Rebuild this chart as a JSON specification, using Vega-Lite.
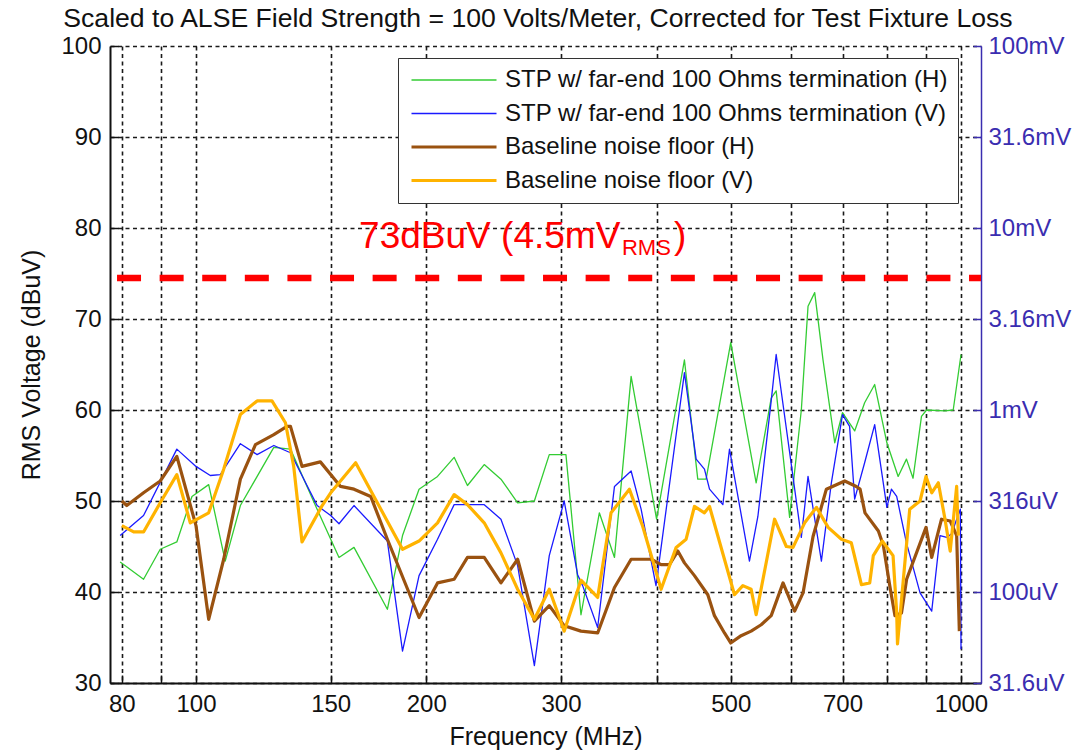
{
  "$schema": "https://vega.github.io/schema/vega-lite/v6.json",
  "width": 871,
  "height": 637,
  "autosize": "none",
  "padding": {"left": 110, "top": 46, "right": 101, "bottom": 68},
  "background": "white",
  "config": {"view": {"stroke": null}, "font": "Liberation Sans"},
  "layer": [
    {
      "layer": [
        {
          "data": {"values": [
            {"series": "STP w/ far-end 100 Ohms termination (H)", "f": 79.6, "v": 43.3},
            {"series": "STP w/ far-end 100 Ohms termination (H)", "f": 85.4, "v": 41.4},
            {"series": "STP w/ far-end 100 Ohms termination (H)", "f": 89.8, "v": 44.7},
            {"series": "STP w/ far-end 100 Ohms termination (H)", "f": 94.4, "v": 45.5},
            {"series": "STP w/ far-end 100 Ohms termination (H)", "f": 98.8, "v": 50.5},
            {"series": "STP w/ far-end 100 Ohms termination (H)", "f": 103.9, "v": 51.8},
            {"series": "STP w/ far-end 100 Ohms termination (H)", "f": 109.2, "v": 43.4},
            {"series": "STP w/ far-end 100 Ohms termination (H)", "f": 114.3, "v": 49.5},
            {"series": "STP w/ far-end 100 Ohms termination (H)", "f": 126.4, "v": 55.9},
            {"series": "STP w/ far-end 100 Ohms termination (H)", "f": 132.9, "v": 55.7},
            {"series": "STP w/ far-end 100 Ohms termination (H)", "f": 144.0, "v": 49.1},
            {"series": "STP w/ far-end 100 Ohms termination (H)", "f": 153.8, "v": 43.8},
            {"series": "STP w/ far-end 100 Ohms termination (H)", "f": 160.9, "v": 44.9},
            {"series": "STP w/ far-end 100 Ohms termination (H)", "f": 177.9, "v": 38.1},
            {"series": "STP w/ far-end 100 Ohms termination (H)", "f": 186.2, "v": 46.2},
            {"series": "STP w/ far-end 100 Ohms termination (H)", "f": 195.7, "v": 51.3},
            {"series": "STP w/ far-end 100 Ohms termination (H)", "f": 206.9, "v": 52.7},
            {"series": "STP w/ far-end 100 Ohms termination (H)", "f": 217.5, "v": 54.8},
            {"series": "STP w/ far-end 100 Ohms termination (H)", "f": 226.4, "v": 51.7},
            {"series": "STP w/ far-end 100 Ohms termination (H)", "f": 238.1, "v": 54.0},
            {"series": "STP w/ far-end 100 Ohms termination (H)", "f": 250.4, "v": 52.4},
            {"series": "STP w/ far-end 100 Ohms termination (H)", "f": 263.3, "v": 49.8},
            {"series": "STP w/ far-end 100 Ohms termination (H)", "f": 276.9, "v": 50.0},
            {"series": "STP w/ far-end 100 Ohms termination (H)", "f": 289.6, "v": 55.1},
            {"series": "STP w/ far-end 100 Ohms termination (H)", "f": 304.5, "v": 55.1},
            {"series": "STP w/ far-end 100 Ohms termination (H)", "f": 318.6, "v": 37.5},
            {"series": "STP w/ far-end 100 Ohms termination (H)", "f": 336.7, "v": 48.7},
            {"series": "STP w/ far-end 100 Ohms termination (H)", "f": 352.4, "v": 43.8},
            {"series": "STP w/ far-end 100 Ohms termination (H)", "f": 370.5, "v": 63.7},
            {"series": "STP w/ far-end 100 Ohms termination (H)", "f": 400, "v": 48.0},
            {"series": "STP w/ far-end 100 Ohms termination (H)", "f": 435, "v": 65.5},
            {"series": "STP w/ far-end 100 Ohms termination (H)", "f": 452.8, "v": 52.4},
            {"series": "STP w/ far-end 100 Ohms termination (H)", "f": 464.3, "v": 52.4},
            {"series": "STP w/ far-end 100 Ohms termination (H)", "f": 500, "v": 67.4},
            {"series": "STP w/ far-end 100 Ohms termination (H)", "f": 539.8, "v": 52.0},
            {"series": "STP w/ far-end 100 Ohms termination (H)", "f": 564.8, "v": 61.3},
            {"series": "STP w/ far-end 100 Ohms termination (H)", "f": 573.3, "v": 62.1},
            {"series": "STP w/ far-end 100 Ohms termination (H)", "f": 597, "v": 48.2},
            {"series": "STP w/ far-end 100 Ohms termination (H)", "f": 618.4, "v": 60.0},
            {"series": "STP w/ far-end 100 Ohms termination (H)", "f": 631, "v": 71.4},
            {"series": "STP w/ far-end 100 Ohms termination (H)", "f": 643.8, "v": 72.9},
            {"series": "STP w/ far-end 100 Ohms termination (H)", "f": 660.1, "v": 65.5},
            {"series": "STP w/ far-end 100 Ohms termination (H)", "f": 683.8, "v": 56.4},
            {"series": "STP w/ far-end 100 Ohms termination (H)", "f": 700, "v": 59.7},
            {"series": "STP w/ far-end 100 Ohms termination (H)", "f": 726.1, "v": 57.7},
            {"series": "STP w/ far-end 100 Ohms termination (H)", "f": 748.2, "v": 60.8},
            {"series": "STP w/ far-end 100 Ohms termination (H)", "f": 771.2, "v": 62.8},
            {"series": "STP w/ far-end 100 Ohms termination (H)", "f": 800, "v": 56.4},
            {"series": "STP w/ far-end 100 Ohms termination (H)", "f": 827.6, "v": 52.7},
            {"series": "STP w/ far-end 100 Ohms termination (H)", "f": 848.6, "v": 54.6},
            {"series": "STP w/ far-end 100 Ohms termination (H)", "f": 865.6, "v": 52.5},
            {"series": "STP w/ far-end 100 Ohms termination (H)", "f": 887.8, "v": 59.3},
            {"series": "STP w/ far-end 100 Ohms termination (H)", "f": 901.5, "v": 60.0},
            {"series": "STP w/ far-end 100 Ohms termination (H)", "f": 952.5, "v": 59.9},
            {"series": "STP w/ far-end 100 Ohms termination (H)", "f": 976.8, "v": 60.0},
            {"series": "STP w/ far-end 100 Ohms termination (H)", "f": 1000, "v": 66.1},

            {"series": "STP w/ far-end 100 Ohms termination (V)", "f": 79.6, "v": 46.2},
            {"series": "STP w/ far-end 100 Ohms termination (V)", "f": 85.4, "v": 48.4},
            {"series": "STP w/ far-end 100 Ohms termination (V)", "f": 94.4, "v": 55.7},
            {"series": "STP w/ far-end 100 Ohms termination (V)", "f": 100, "v": 53.8},
            {"series": "STP w/ far-end 100 Ohms termination (V)", "f": 104.4, "v": 52.8},
            {"series": "STP w/ far-end 100 Ohms termination (V)", "f": 107.6, "v": 52.9},
            {"series": "STP w/ far-end 100 Ohms termination (V)", "f": 114.3, "v": 56.3},
            {"series": "STP w/ far-end 100 Ohms termination (V)", "f": 120.2, "v": 55.1},
            {"series": "STP w/ far-end 100 Ohms termination (V)", "f": 126.4, "v": 56.1},
            {"series": "STP w/ far-end 100 Ohms termination (V)", "f": 132.9, "v": 55.3},
            {"series": "STP w/ far-end 100 Ohms termination (V)", "f": 144.0, "v": 49.5},
            {"series": "STP w/ far-end 100 Ohms termination (V)", "f": 150, "v": 48.4},
            {"series": "STP w/ far-end 100 Ohms termination (V)", "f": 153.8, "v": 47.5},
            {"series": "STP w/ far-end 100 Ohms termination (V)", "f": 160.9, "v": 49.5},
            {"series": "STP w/ far-end 100 Ohms termination (V)", "f": 177.9, "v": 45.6},
            {"series": "STP w/ far-end 100 Ohms termination (V)", "f": 186.2, "v": 33.5},
            {"series": "STP w/ far-end 100 Ohms termination (V)", "f": 195.7, "v": 41.8},
            {"series": "STP w/ far-end 100 Ohms termination (V)", "f": 206.9, "v": 45.8},
            {"series": "STP w/ far-end 100 Ohms termination (V)", "f": 217.5, "v": 49.6},
            {"series": "STP w/ far-end 100 Ohms termination (V)", "f": 238.1, "v": 49.6},
            {"series": "STP w/ far-end 100 Ohms termination (V)", "f": 250.4, "v": 48.0},
            {"series": "STP w/ far-end 100 Ohms termination (V)", "f": 263.3, "v": 42.9},
            {"series": "STP w/ far-end 100 Ohms termination (V)", "f": 276.9, "v": 31.9},
            {"series": "STP w/ far-end 100 Ohms termination (V)", "f": 289.6, "v": 44.0},
            {"series": "STP w/ far-end 100 Ohms termination (V)", "f": 302.9, "v": 50.0},
            {"series": "STP w/ far-end 100 Ohms termination (V)", "f": 315.4, "v": 41.9},
            {"series": "STP w/ far-end 100 Ohms termination (V)", "f": 320.2, "v": 40.7},
            {"series": "STP w/ far-end 100 Ohms termination (V)", "f": 335.0, "v": 36.1},
            {"series": "STP w/ far-end 100 Ohms termination (V)", "f": 352.4, "v": 51.6},
            {"series": "STP w/ far-end 100 Ohms termination (V)", "f": 370.5, "v": 53.3},
            {"series": "STP w/ far-end 100 Ohms termination (V)", "f": 381.8, "v": 49.1},
            {"series": "STP w/ far-end 100 Ohms termination (V)", "f": 399.3, "v": 40.7},
            {"series": "STP w/ far-end 100 Ohms termination (V)", "f": 435, "v": 64.1},
            {"series": "STP w/ far-end 100 Ohms termination (V)", "f": 450.6, "v": 54.6},
            {"series": "STP w/ far-end 100 Ohms termination (V)", "f": 462, "v": 53.5},
            {"series": "STP w/ far-end 100 Ohms termination (V)", "f": 469.1, "v": 51.3},
            {"series": "STP w/ far-end 100 Ohms termination (V)", "f": 488.3, "v": 49.6},
            {"series": "STP w/ far-end 100 Ohms termination (V)", "f": 498.2, "v": 55.7},
            {"series": "STP w/ far-end 100 Ohms termination (V)", "f": 529, "v": 43.4},
            {"series": "STP w/ far-end 100 Ohms termination (V)", "f": 542.6, "v": 48.3},
            {"series": "STP w/ far-end 100 Ohms termination (V)", "f": 564.8, "v": 61.0},
            {"series": "STP w/ far-end 100 Ohms termination (V)", "f": 573.3, "v": 66.1},
            {"series": "STP w/ far-end 100 Ohms termination (V)", "f": 618.4, "v": 46.0},
            {"series": "STP w/ far-end 100 Ohms termination (V)", "f": 631, "v": 52.7},
            {"series": "STP w/ far-end 100 Ohms termination (V)", "f": 656.9, "v": 43.4},
            {"series": "STP w/ far-end 100 Ohms termination (V)", "f": 676.9, "v": 52.0},
            {"series": "STP w/ far-end 100 Ohms termination (V)", "f": 700, "v": 59.5},
            {"series": "STP w/ far-end 100 Ohms termination (V)", "f": 715.1, "v": 58.2},
            {"series": "STP w/ far-end 100 Ohms termination (V)", "f": 726.1, "v": 50.2},
            {"series": "STP w/ far-end 100 Ohms termination (V)", "f": 748.2, "v": 54.2},
            {"series": "STP w/ far-end 100 Ohms termination (V)", "f": 771.2, "v": 58.4},
            {"series": "STP w/ far-end 100 Ohms termination (V)", "f": 800, "v": 49.3},
            {"series": "STP w/ far-end 100 Ohms termination (V)", "f": 811, "v": 51.3},
            {"series": "STP w/ far-end 100 Ohms termination (V)", "f": 824, "v": 50.5},
            {"series": "STP w/ far-end 100 Ohms termination (V)", "f": 848.6, "v": 45.4},
            {"series": "STP w/ far-end 100 Ohms termination (V)", "f": 884, "v": 39.9},
            {"series": "STP w/ far-end 100 Ohms termination (V)", "f": 915.6, "v": 37.9},
            {"series": "STP w/ far-end 100 Ohms termination (V)", "f": 938.8, "v": 46.2},
            {"series": "STP w/ far-end 100 Ohms termination (V)", "f": 958, "v": 46.0},
            {"series": "STP w/ far-end 100 Ohms termination (V)", "f": 972, "v": 46.4},
            {"series": "STP w/ far-end 100 Ohms termination (V)", "f": 987, "v": 48.0},
            {"series": "STP w/ far-end 100 Ohms termination (V)", "f": 998, "v": 49.1},
            {"series": "STP w/ far-end 100 Ohms termination (V)", "f": 1000, "v": 33.7},

            {"series": "Baseline noise floor (H)", "f": 80, "v": 50.0},
            {"series": "Baseline noise floor (H)", "f": 81.2, "v": 49.5},
            {"series": "Baseline noise floor (H)", "f": 85.4, "v": 50.9},
            {"series": "Baseline noise floor (H)", "f": 89.8, "v": 52.2},
            {"series": "Baseline noise floor (H)", "f": 94.4, "v": 54.9},
            {"series": "Baseline noise floor (H)", "f": 100, "v": 47.3},
            {"series": "Baseline noise floor (H)", "f": 103.9, "v": 37.0},
            {"series": "Baseline noise floor (H)", "f": 108.7, "v": 43.6},
            {"series": "Baseline noise floor (H)", "f": 114.3, "v": 52.4},
            {"series": "Baseline noise floor (H)", "f": 119.6, "v": 56.2},
            {"series": "Baseline noise floor (H)", "f": 126.4, "v": 57.3},
            {"series": "Baseline noise floor (H)", "f": 131.5, "v": 58.2},
            {"series": "Baseline noise floor (H)", "f": 132.9, "v": 58.2},
            {"series": "Baseline noise floor (H)", "f": 137.6, "v": 53.8},
            {"series": "Baseline noise floor (H)", "f": 145.4, "v": 54.3},
            {"series": "Baseline noise floor (H)", "f": 154.5, "v": 51.6},
            {"series": "Baseline noise floor (H)", "f": 160.9, "v": 51.3},
            {"series": "Baseline noise floor (H)", "f": 169.2, "v": 50.5},
            {"series": "Baseline noise floor (H)", "f": 177.9, "v": 45.8},
            {"series": "Baseline noise floor (H)", "f": 195.7, "v": 37.2},
            {"series": "Baseline noise floor (H)", "f": 206.9, "v": 41.0},
            {"series": "Baseline noise floor (H)", "f": 217.5, "v": 41.4},
            {"series": "Baseline noise floor (H)", "f": 226.4, "v": 43.8},
            {"series": "Baseline noise floor (H)", "f": 238.1, "v": 43.8},
            {"series": "Baseline noise floor (H)", "f": 250.4, "v": 41.0},
            {"series": "Baseline noise floor (H)", "f": 263.3, "v": 43.6},
            {"series": "Baseline noise floor (H)", "f": 276.9, "v": 36.8},
            {"series": "Baseline noise floor (H)", "f": 289.6, "v": 38.5},
            {"series": "Baseline noise floor (H)", "f": 302.9, "v": 36.3},
            {"series": "Baseline noise floor (H)", "f": 318.6, "v": 35.7},
            {"series": "Baseline noise floor (H)", "f": 335.0, "v": 35.5},
            {"series": "Baseline noise floor (H)", "f": 352.4, "v": 40.5},
            {"series": "Baseline noise floor (H)", "f": 370.5, "v": 43.6},
            {"series": "Baseline noise floor (H)", "f": 393.5, "v": 43.6},
            {"series": "Baseline noise floor (H)", "f": 405.5, "v": 43.0},
            {"series": "Baseline noise floor (H)", "f": 415.8, "v": 43.0},
            {"series": "Baseline noise floor (H)", "f": 426.4, "v": 44.5},
            {"series": "Baseline noise floor (H)", "f": 435, "v": 43.2},
            {"series": "Baseline noise floor (H)", "f": 448.3, "v": 41.8},
            {"series": "Baseline noise floor (H)", "f": 466.7, "v": 39.7},
            {"series": "Baseline noise floor (H)", "f": 476.1, "v": 37.4},
            {"series": "Baseline noise floor (H)", "f": 490.7, "v": 35.5},
            {"series": "Baseline noise floor (H)", "f": 500, "v": 34.4},
            {"series": "Baseline noise floor (H)", "f": 515.9, "v": 35.2},
            {"series": "Baseline noise floor (H)", "f": 531.7, "v": 35.7},
            {"series": "Baseline noise floor (H)", "f": 548, "v": 36.4},
            {"series": "Baseline noise floor (H)", "f": 564.8, "v": 37.4},
            {"series": "Baseline noise floor (H)", "f": 585.3, "v": 41.0},
            {"series": "Baseline noise floor (H)", "f": 606.1, "v": 37.9},
            {"series": "Baseline noise floor (H)", "f": 621.6, "v": 39.9},
            {"series": "Baseline noise floor (H)", "f": 640.6, "v": 46.1},
            {"series": "Baseline noise floor (H)", "f": 666.8, "v": 51.3},
            {"series": "Baseline noise floor (H)", "f": 704.7, "v": 52.2},
            {"series": "Baseline noise floor (H)", "f": 729.6, "v": 51.6},
            {"series": "Baseline noise floor (H)", "f": 738, "v": 51.3},
            {"series": "Baseline noise floor (H)", "f": 749, "v": 48.7},
            {"series": "Baseline noise floor (H)", "f": 779.8, "v": 46.7},
            {"series": "Baseline noise floor (H)", "f": 791.6, "v": 45.1},
            {"series": "Baseline noise floor (H)", "f": 807, "v": 40.7},
            {"series": "Baseline noise floor (H)", "f": 819.7, "v": 37.4},
            {"series": "Baseline noise floor (H)", "f": 836, "v": 37.7},
            {"series": "Baseline noise floor (H)", "f": 849, "v": 41.4},
            {"series": "Baseline noise floor (H)", "f": 900, "v": 47.1},
            {"series": "Baseline noise floor (H)", "f": 915.6, "v": 43.8},
            {"series": "Baseline noise floor (H)", "f": 943, "v": 48.0},
            {"series": "Baseline noise floor (H)", "f": 968, "v": 47.8},
            {"series": "Baseline noise floor (H)", "f": 987, "v": 46.2},
            {"series": "Baseline noise floor (H)", "f": 995, "v": 35.7},

            {"series": "Baseline noise floor (V)", "f": 80, "v": 47.3},
            {"series": "Baseline noise floor (V)", "f": 82.9, "v": 46.6},
            {"series": "Baseline noise floor (V)", "f": 85.4, "v": 46.6},
            {"series": "Baseline noise floor (V)", "f": 89.8, "v": 49.8},
            {"series": "Baseline noise floor (V)", "f": 94.4, "v": 52.9},
            {"series": "Baseline noise floor (V)", "f": 98.3, "v": 47.6},
            {"series": "Baseline noise floor (V)", "f": 103.9, "v": 48.7},
            {"series": "Baseline noise floor (V)", "f": 108.7, "v": 53.5},
            {"series": "Baseline noise floor (V)", "f": 114.3, "v": 59.5},
            {"series": "Baseline noise floor (V)", "f": 120.2, "v": 61.0},
            {"series": "Baseline noise floor (V)", "f": 125.7, "v": 61.0},
            {"series": "Baseline noise floor (V)", "f": 130.9, "v": 58.6},
            {"series": "Baseline noise floor (V)", "f": 134.2, "v": 53.8},
            {"series": "Baseline noise floor (V)", "f": 137.6, "v": 45.5},
            {"series": "Baseline noise floor (V)", "f": 146.2, "v": 49.5},
            {"series": "Baseline noise floor (V)", "f": 150, "v": 50.9},
            {"series": "Baseline noise floor (V)", "f": 161.7, "v": 54.2},
            {"series": "Baseline noise floor (V)", "f": 186.2, "v": 44.7},
            {"series": "Baseline noise floor (V)", "f": 195.7, "v": 45.6},
            {"series": "Baseline noise floor (V)", "f": 206.9, "v": 47.6},
            {"series": "Baseline noise floor (V)", "f": 217.5, "v": 50.7},
            {"series": "Baseline noise floor (V)", "f": 226.4, "v": 49.6},
            {"series": "Baseline noise floor (V)", "f": 238.1, "v": 47.6},
            {"series": "Baseline noise floor (V)", "f": 250.4, "v": 44.3},
            {"series": "Baseline noise floor (V)", "f": 263.3, "v": 40.3},
            {"series": "Baseline noise floor (V)", "f": 276.9, "v": 37.0},
            {"series": "Baseline noise floor (V)", "f": 289.6, "v": 40.3},
            {"series": "Baseline noise floor (V)", "f": 302.9, "v": 35.7},
            {"series": "Baseline noise floor (V)", "f": 318.6, "v": 41.3},
            {"series": "Baseline noise floor (V)", "f": 335.0, "v": 39.4},
            {"series": "Baseline noise floor (V)", "f": 348.8, "v": 48.7},
            {"series": "Baseline noise floor (V)", "f": 368.6, "v": 51.3},
            {"series": "Baseline noise floor (V)", "f": 383.7, "v": 47.2},
            {"series": "Baseline noise floor (V)", "f": 405.5, "v": 40.3},
            {"series": "Baseline noise floor (V)", "f": 424.3, "v": 44.9},
            {"series": "Baseline noise floor (V)", "f": 437.2, "v": 45.8},
            {"series": "Baseline noise floor (V)", "f": 448.3, "v": 49.4},
            {"series": "Baseline noise floor (V)", "f": 462, "v": 48.7},
            {"series": "Baseline noise floor (V)", "f": 469.1, "v": 49.4},
            {"series": "Baseline noise floor (V)", "f": 505.7, "v": 39.7},
            {"series": "Baseline noise floor (V)", "f": 518.6, "v": 40.7},
            {"series": "Baseline noise floor (V)", "f": 531.7, "v": 40.3},
            {"series": "Baseline noise floor (V)", "f": 539.8, "v": 37.5},
            {"series": "Baseline noise floor (V)", "f": 570.5, "v": 48.0},
            {"series": "Baseline noise floor (V)", "f": 591.1, "v": 45.0},
            {"series": "Baseline noise floor (V)", "f": 603.1, "v": 44.9},
            {"series": "Baseline noise floor (V)", "f": 624.6, "v": 47.6},
            {"series": "Baseline noise floor (V)", "f": 647.2, "v": 49.3},
            {"series": "Baseline noise floor (V)", "f": 670.4, "v": 47.1},
            {"series": "Baseline noise floor (V)", "f": 697.7, "v": 45.8},
            {"series": "Baseline noise floor (V)", "f": 718.8, "v": 45.4},
            {"series": "Baseline noise floor (V)", "f": 741, "v": 40.8},
            {"series": "Baseline noise floor (V)", "f": 759.8, "v": 41.0},
            {"series": "Baseline noise floor (V)", "f": 768, "v": 44.0},
            {"series": "Baseline noise floor (V)", "f": 789, "v": 45.6},
            {"series": "Baseline noise floor (V)", "f": 815, "v": 44.0},
            {"series": "Baseline noise floor (V)", "f": 824, "v": 37.7},
            {"series": "Baseline noise floor (V)", "f": 826, "v": 34.3},
            {"series": "Baseline noise floor (V)", "f": 857, "v": 49.1},
            {"series": "Baseline noise floor (V)", "f": 884, "v": 50.0},
            {"series": "Baseline noise floor (V)", "f": 900, "v": 52.7},
            {"series": "Baseline noise floor (V)", "f": 915.6, "v": 50.9},
            {"series": "Baseline noise floor (V)", "f": 934, "v": 52.0},
            {"series": "Baseline noise floor (V)", "f": 953, "v": 48.0},
            {"series": "Baseline noise floor (V)", "f": 968, "v": 44.5},
            {"series": "Baseline noise floor (V)", "f": 987, "v": 51.6},
            {"series": "Baseline noise floor (V)", "f": 992, "v": 46.2}
          ]},
          "mark": {"type": "line", "strokeJoin": "round"},
          "encoding": {
            "x": {"field": "f", "type": "quantitative",
              "scale": {"type": "log", "domain": [77.2, 1062], "nice": false},
              "axis": {"title": "Frequency (MHz)", "values": [80, 90, 100, 150, 200, 300, 400, 500, 600, 700, 800, 900, 1000],
                "labelExpr": "indexof([80, 100, 150, 200, 300, 500, 700, 1000], datum.value) >= 0 ? datum.value + '' : ''",
                "grid": true, "gridColor": "#1a1a1a", "gridDash": [4, 3.5], "gridWidth": 1.6, "gridOpacity": 1,
                "domainColor": "#111111", "domainWidth": 2, "tickColor": "#111111", "tickSize": -8, "tickWidth": 1.5,
                "labelFont": "Liberation Sans", "labelFontSize": 24, "labelColor": "#111111", "labelPadding": 17,
                "labelFlush": false, "labelOverlap": false,
                "titleFont": "Liberation Sans", "titleFontSize": 25, "titleFontWeight": "normal", "titleColor": "#111111", "titlePadding": 8}},
            "y": {"field": "v", "type": "quantitative",
              "scale": {"domain": [30, 100], "nice": false, "zero": false},
              "axis": {"title": "RMS Voltage (dBuV)", "values": [30, 40, 50, 60, 70, 80, 90, 100],
                "grid": true, "gridColor": "#1a1a1a", "gridDash": [4, 3.5], "gridWidth": 1.6, "gridOpacity": 1,
                "domainColor": "#111111", "domainWidth": 2, "tickColor": "#111111", "tickSize": -8, "tickWidth": 1.5,
                "labelFont": "Liberation Sans", "labelFontSize": 24, "labelColor": "#111111", "labelPadding": 17,
                "labelFlush": false, "labelOverlap": false,
                "titleFont": "Liberation Sans", "titleFontSize": 25, "titleFontWeight": "normal", "titleColor": "#111111", "titlePadding": 16}},
            "color": {"field": "series", "type": "nominal",
              "scale": {"domain": ["STP w/ far-end 100 Ohms termination (H)", "STP w/ far-end 100 Ohms termination (V)", "Baseline noise floor (H)", "Baseline noise floor (V)"],
                "range": ["#33cc33", "#1a1aff", "#9a5210", "#ffb300"]},
              "legend": {"title": null, "orient": "none", "legendX": 288, "legendY": 12, "symbolType": "M-1,0H9", "symbolSize": 289,
                "labelFont": "Liberation Sans", "labelFontSize": 24, "labelColor": "#111111", "labelLimit": 1000, "labelOffset": 73,
                "padding": 10, "rowPadding": 9.5, "fillColor": "white", "strokeColor": "#333333"}},
            "strokeWidth": {"field": "series", "type": "nominal",
              "scale": {"type": "ordinal", "domain": ["STP w/ far-end 100 Ohms termination (H)", "STP w/ far-end 100 Ohms termination (V)", "Baseline noise floor (H)", "Baseline noise floor (V)"],
                "range": [1.3, 1.3, 3.2, 3.2]},
              "legend": {"title": null, "orient": "none", "legendX": 288, "legendY": 12, "symbolType": "M-1,0H9", "symbolSize": 289,
                "labelFont": "Liberation Sans", "labelFontSize": 24, "labelColor": "#111111", "labelLimit": 1000, "labelOffset": 73,
                "padding": 10, "rowPadding": 9.5, "fillColor": "white", "strokeColor": "#333333"}}
          }
        },
        {
          "data": {"values": [{}]},
          "mark": {"type": "text", "text": "Scaled to ALSE Field Strength = 100 Volts/Meter, Corrected for Test Fixture Loss", "align": "center", "baseline": "alphabetic", "font": "Liberation Sans", "fontSize": 26.6, "color": "#111111"},
          "encoding": {"x": {"datum": 279.9, "type": "quantitative"}, "y": {"datum": 102.1, "type": "quantitative"}}
        },
        {
          "data": {"values": [{}]},
          "mark": {"type": "text", "text": "73dBuV (4.5mV", "align": "left", "baseline": "alphabetic", "font": "Liberation Sans", "fontSize": 37, "color": "#ff0000"},
          "encoding": {"x": {"datum": 163.4, "type": "quantitative"}, "y": {"datum": 77.8, "type": "quantitative"}}
        },
        {
          "data": {"values": [{}]},
          "mark": {"type": "text", "text": "RMS", "align": "left", "baseline": "alphabetic", "font": "Liberation Sans", "fontSize": 22, "color": "#ff0000"},
          "encoding": {"x": {"datum": 360.4, "type": "quantitative"}, "y": {"datum": 77.0, "type": "quantitative"}}
        },
        {
          "data": {"values": [{}]},
          "mark": {"type": "text", "text": ")", "align": "left", "baseline": "alphabetic", "font": "Liberation Sans", "fontSize": 37, "color": "#ff0000"},
          "encoding": {"x": {"datum": 421.5, "type": "quantitative"}, "y": {"datum": 77.8, "type": "quantitative"}}
        }
      ]
    },
    {
      "data": {"values": [{}]},
      "mark": {"type": "rule", "color": "#ff0000", "strokeWidth": 6.5, "strokeDash": [24, 18.6], "strokeCap": "butt"},
      "encoding": {
        "x": {"datum": 78.85, "type": "quantitative"},
        "x2": {"datum": 1062},
        "y": {"datum": 74.5, "type": "quantitative",
          "scale": {"domain": [30, 100], "nice": false, "zero": false},
          "axis": {"orient": "right", "title": null, "values": [30, 40, 50, 60, 70, 80, 90, 100],
            "labelExpr": "datum.value == 100 ? '100mV' : datum.value == 90 ? '31.6mV' : datum.value == 80 ? '10mV' : datum.value == 70 ? '3.16mV' : datum.value == 60 ? '1mV' : datum.value == 50 ? '316uV' : datum.value == 40 ? '100uV' : '31.6uV'",
            "grid": false, "domainColor": "#3a2db0", "domainWidth": 1.5, "tickColor": "#3a2db0", "tickSize": -8, "tickWidth": 1.5,
            "labelFont": "Liberation Sans", "labelFontSize": 24, "labelColor": "#3a2db0", "labelPadding": 15,
            "labelFlush": false, "labelOverlap": false}}
      }
    }
  ],
  "resolve": {"scale": {"y": "independent"}}
}
